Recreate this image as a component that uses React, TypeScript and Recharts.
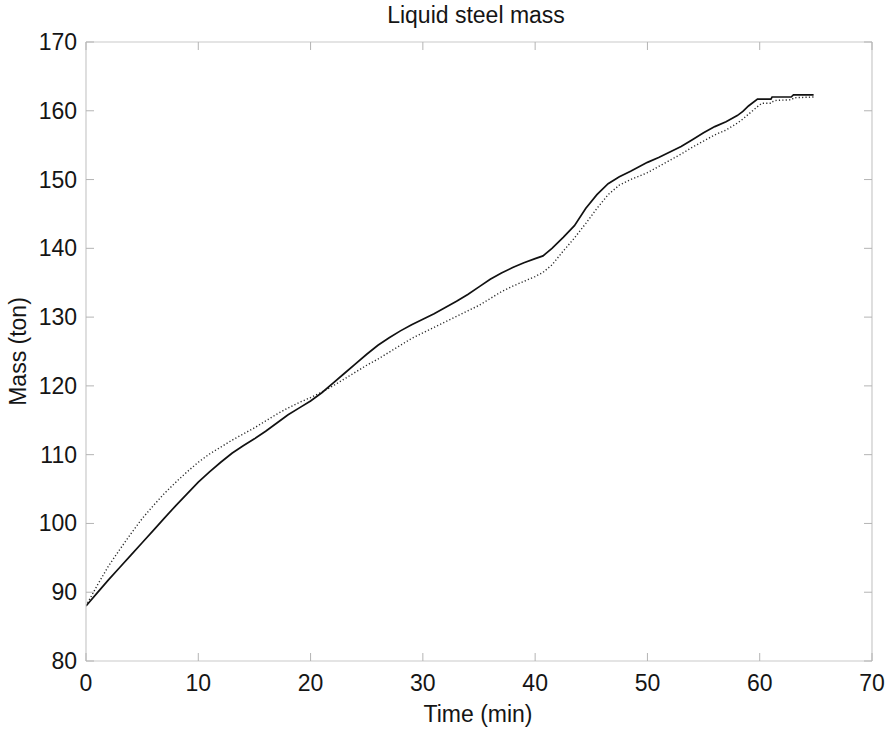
import React from 'react';
import { LineChart, Line, XAxis, YAxis } from 'recharts';

const TITLE = 'Liquid steel mass';
const X_LABEL = 'Time (min)';
const Y_LABEL = 'Mass (ton)';

const xTicks = [0, 10, 20, 30, 40, 50, 60, 70];
const yTicks = [80, 90, 100, 110, 120, 130, 140, 150, 160, 170];

const times = [
  0, 1, 2, 3, 4, 5, 6, 7, 8, 9, 10, 11, 12, 13, 14, 15, 16, 17, 18, 19, 20,
  21, 22, 23, 24, 25, 26, 27, 28, 29, 30, 31, 32, 33, 34, 35, 36, 37, 38, 39,
  40, 40.7, 41.5, 42.5, 43.5, 44.5, 45.5, 46.5, 47.5, 48.5, 50, 51, 52, 53, 54,
  55, 56, 57, 58, 58.5, 59, 59.8, 60.2, 61.0, 61.1, 61.4, 62.8, 63.0, 63.1, 64.8,
];

const solidMass = [
  88.0, 89.9, 91.8, 93.6, 95.4, 97.2, 99.0, 100.8, 102.6, 104.3, 106.0, 107.5,
  108.9, 110.2, 111.3, 112.3, 113.4, 114.6, 115.8, 116.8, 117.8, 119.0, 120.4,
  121.8, 123.2, 124.6, 125.9, 127.0, 128.0, 128.9, 129.7, 130.5, 131.4, 132.3,
  133.3, 134.4, 135.5, 136.4, 137.2, 137.9, 138.5, 138.9, 140.0, 141.6, 143.3,
  145.8, 147.8, 149.4, 150.4, 151.2, 152.5, 153.2, 154.0, 154.8, 155.8, 156.8,
  157.7, 158.4, 159.3, 159.9, 160.7, 161.7, 161.7, 161.7, 162.0, 162.0, 162.0,
  162.3, 162.3, 162.3,
];

const dottedMass = [
  88.0, 91.0, 93.8, 96.2, 98.5, 100.7, 102.6, 104.4, 106.0, 107.5, 108.9, 110.1,
  111.1, 112.1, 113.0, 113.9, 114.9, 115.9, 116.8, 117.6, 118.3, 119.1, 120.0,
  121.0, 122.0, 123.0, 123.9, 124.9, 125.9, 126.9, 127.7, 128.5, 129.3, 130.1,
  130.9, 131.7, 132.7, 133.7, 134.5, 135.2, 135.9, 136.5, 137.6, 139.6, 141.5,
  143.6, 145.8, 147.8, 149.2, 150.0, 151.0, 151.9, 152.8, 153.7, 154.7, 155.6,
  156.5, 157.2, 158.2, 158.8, 159.5, 160.6, 161.1, 161.1, 161.3, 161.5, 161.6,
  161.8, 161.9, 162.0,
];

const data = times.map((t, i) => ({ t, solid: solidMass[i], dotted: dottedMass[i] }));

const FONT = '"Liberation Sans", Arial, Helvetica, sans-serif';
const TEXT = '#151515';
const TICK = '#b4b4b4';
const BORDER = '#c9c9c9';
const TICK_LEN = 8;

const BottomTick = (props: any) => {
  const { x, y, payload } = props;
  return (
    <g>
      <line x1={x} y1={y} x2={x} y2={y - TICK_LEN} stroke={TICK} strokeWidth={1} />
      <text x={x} y={y + 30} textAnchor="middle" fontSize={23} fontFamily={FONT} fill={TEXT}>
        {payload.value}
      </text>
    </g>
  );
};

const TopTick = (props: any) => {
  const { x, y } = props;
  return <line x1={x} y1={y} x2={x} y2={y + TICK_LEN} stroke={TICK} strokeWidth={1} />;
};

const LeftTick = (props: any) => {
  const { x, y, payload } = props;
  return (
    <g>
      <line x1={x} y1={y} x2={x + TICK_LEN} y2={y} stroke={TICK} strokeWidth={1} />
      <text x={x - 9} y={y + 8} textAnchor="end" fontSize={23} fontFamily={FONT} fill={TEXT}>
        {payload.value}
      </text>
    </g>
  );
};

const RightTick = (props: any) => {
  const { x, y } = props;
  return <line x1={x} y1={y} x2={x - TICK_LEN} y2={y} stroke={TICK} strokeWidth={1} />;
};

const TitleLabel = (props: any) => {
  const vb = props.viewBox || {};
  return (
    <text x={vb.x + vb.width / 2 - 3} y={23} textAnchor="middle" fontSize={23} fontFamily={FONT} fill={TEXT}>
      {TITLE}
    </text>
  );
};

const XLabel = (props: any) => {
  const vb = props.viewBox || {};
  return (
    <text x={vb.x + vb.width / 2 - 1} y={vb.y + 61} textAnchor="middle" fontSize={23} fontFamily={FONT} fill={TEXT}>
      {X_LABEL}
    </text>
  );
};

const YLabel = (props: any) => {
  const vb = props.viewBox || {};
  const cy = vb.y + vb.height / 2;
  return (
    <text
      transform={`translate(26, ${cy}) rotate(-90)`}
      x={0}
      y={0}
      textAnchor="middle"
      fontSize={23}
      fontFamily={FONT}
      fill={TEXT}
    >
      {Y_LABEL}
    </text>
  );
};

export default function App() {
  return (
    <div style={{ position: 'absolute', left: 0, top: 0, width: 889, height: 732, background: '#fff' }}>
      <LineChart width={889} height={732} data={data} margin={{ top: 0, right: 0, bottom: 0, left: 0 }}>
        <XAxis
          xAxisId="bottom"
          dataKey="t"
          type="number"
          domain={[0, 70]}
          ticks={xTicks}
          interval={0}
          orientation="bottom"
          height={71}
          tickSize={0}
          tickMargin={0}
          tickLine={false}
          axisLine={{ stroke: BORDER, strokeWidth: 1.2 }}
          tick={BottomTick}
          allowDataOverflow
          label={{ content: XLabel }}
        />
        <XAxis
          xAxisId="top"
          dataKey="t"
          type="number"
          domain={[0, 70]}
          ticks={xTicks}
          interval={0}
          orientation="top"
          height={42}
          tickSize={0}
          tickMargin={0}
          tickLine={false}
          axisLine={{ stroke: BORDER, strokeWidth: 1.2 }}
          tick={TopTick}
          allowDataOverflow
          label={{ content: TitleLabel }}
        />
        <YAxis
          yAxisId="left"
          type="number"
          domain={[80, 170]}
          ticks={yTicks}
          interval={0}
          orientation="left"
          width={86}
          tickSize={0}
          tickMargin={0}
          tickLine={false}
          axisLine={{ stroke: BORDER, strokeWidth: 1.2 }}
          tick={LeftTick}
          allowDataOverflow
          label={{ content: YLabel }}
        />
        <YAxis
          yAxisId="right"
          type="number"
          domain={[80, 170]}
          ticks={yTicks}
          interval={0}
          orientation="right"
          width={17}
          tickSize={0}
          tickMargin={0}
          tickLine={false}
          axisLine={{ stroke: BORDER, strokeWidth: 1.2 }}
          tick={RightTick}
          allowDataOverflow
        />
        <Line
          xAxisId="top"
          yAxisId="right"
          type="linear"
          dataKey="dotted"
          stroke="#2a2a2a"
          strokeWidth={1.4}
          strokeDasharray="1.2 2.2"
          dot={false}
          activeDot={false}
          isAnimationActive={false}
        />
        <Line
          xAxisId="bottom"
          yAxisId="left"
          type="linear"
          dataKey="solid"
          stroke="#111"
          strokeWidth={1.7}
          dot={false}
          activeDot={false}
          isAnimationActive={false}
        />
      </LineChart>
    </div>
  );
}
